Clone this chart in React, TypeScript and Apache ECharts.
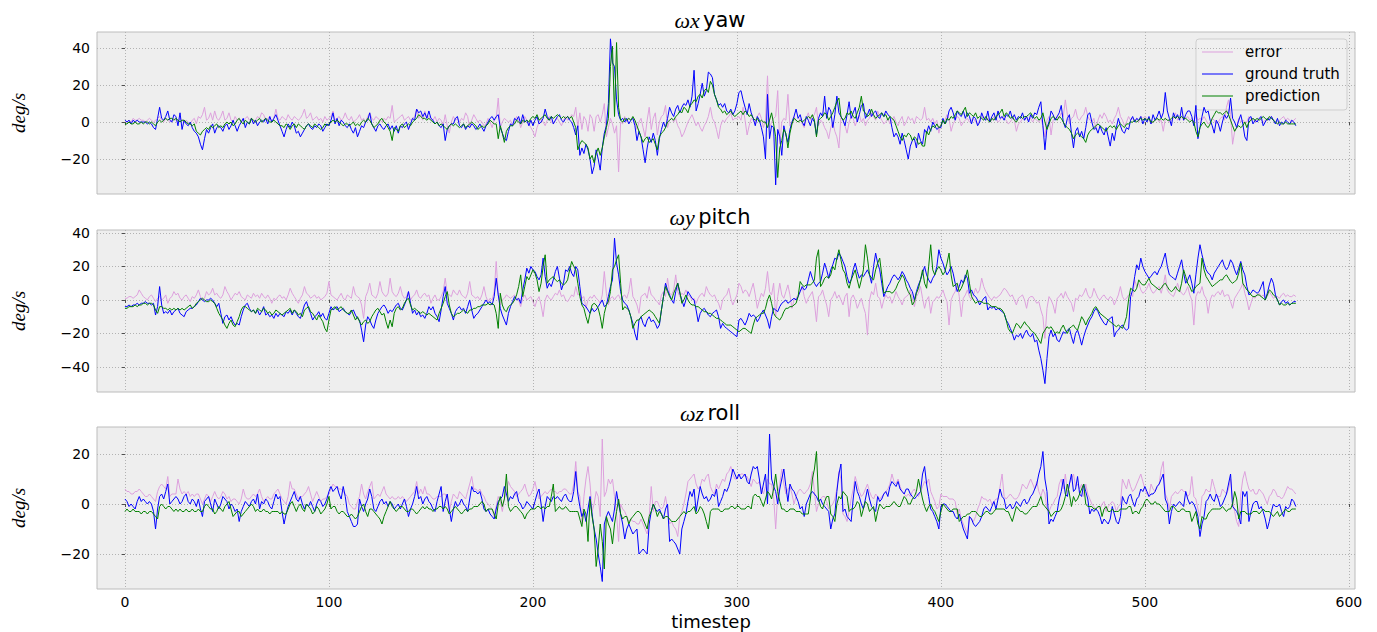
import { useEffect, useRef } from "react";
import * as echarts from "echarts";

// ---- angular rate traces (deg/s), one value per timestep 0..574 ----

const yawTruth = [
  1, 0, 1, -1, 1, 0, 1, 0, 0, 0, 0, -1, 0, -1, -3, -4, 2, 8, 2, 1, 3, 6, 1, 0, 4,
  3, -2, 5, -4, 1, -1, -2, 0, -3, -5, -6, -8, -12, -15, -9, -4, -6, -3, -1, -6, -3, -2, -3, -5, -2,
  -1, -4, -2, 1, -2, -5, -2, 0, 2, -3, 0, -1, 2, -1, 1, -2, 0, 1, 0, 2, -1, 3, 0, 2, 4,
  1, -2, -5, -8, -4, -1, -3, 0, -2, -6, -5, -8, -6, -4, -2, -1, -3, -4, -2, -3, -1, -2, -5, -3, -1,
  -2, 1, 5, -1, 2, -2, 1, 0, -2, -3, -1, -4, -6, -3, -8, -5, -2, -3, 0, 1, 5, -1, -3, -5, -2,
  -1, -3, -4, -2, -1, -4, -2, -5, -2, -6, -2, -3, -1, 0, -4, -1, 2, 1, 7, 5, 6, 3, 5, 2, 6,
  2, 1, -1, 0, -2, -3, -1, -10, -4, -2, -1, -1, 2, 3, -2, -3, -1, -4, -2, -3, -1, -2, -4, -3, -1,
  -3, -5, -2, 0, 2, 3, 1, 3, 4, -3, -6, -9, -10, -5, -1, -2, 2, 1, 3, -1, 4, 0, 1, -2, 1,
  -2, 1, 3, -1, 0, 2, 7, 3, 1, 3, -1, 1, 3, 4, 1, 0, 2, 3, 1, 0, -3, -7, -2, -18, -14,
  -17, -12, -15, -20, -28, -24, -15, -20, -26, -14, -6, -2, 10, 45, 32, 30, 12, 4, 1, 2, 0, 2, -1, 1, 2,
  -2, -10, -5, -8, -15, -22, -14, -8, -11, -6, -10, -18, -9, -4, 0, -3, 2, 8, 5, 3, 7, 9, 5, 8, 10,
  9, 12, 8, 14, 28, 6, 10, 15, 21, 14, 17, 27, 26, 24, 15, 12, 9, 10, 8, 10, 6, 5, 7, 4, 6,
  10, 16, 17, 12, 8, 4, 10, 5, 2, -2, 3, 1, -3, -8, -20, 15, -9, -2, -3, -34, -4, -8, -18, -2, -7,
  -11, -4, 0, 3, 7, 2, 4, 0, -2, 3, 1, -2, 2, 0, -7, 2, 5, 3, 14, 2, 8, 6, -3, 4, 14,
  5, 3, 1, -2, 4, 11, 2, 5, 8, 0, 4, 9, 10, 2, 4, 7, 3, 5, 6, 3, 2, 5, 3, 6, 4,
  3, -3, -8, -6, -8, -12, -6, -10, -15, -20, -13, -10, -9, -14, -6, -10, -12, -4, -6, -2, -5, 0, -2, -4, -3,
  -3, 2, -1, 1, 6, 8, 5, 1, 6, 4, 3, 6, 2, 5, 3, -1, 3, 2, -2, 0, 5, 2, 1, 6, 0,
  3, 5, 1, 6, 2, 3, 1, 4, 3, 6, 2, 4, 1, 3, 2, 5, 1, 3, 0, 4, 2, 5, 4, 8, 11,
  -2, -15, -3, 0, 6, 4, 1, 3, 5, 9, 0, -3, 2, 4, -6, -14, -5, -3, -8, -5, -9, -3, 4, 5, 0,
  -4, -3, -6, -2, -5, -7, -3, -8, -13, -6, -10, -3, 2, -2, -5, -6, -3, -4, 1, 3, 0, 2, 1, 3, -1,
  2, 0, 3, -1, 4, 1, 3, 6, 2, 5, 16, 6, 2, -2, 5, 2, 4, 1, 8, 1, 4, 6, 6, 3, -2,
  9, -9, -3, 3, 8, 5, 6, 1, -2, -6, 1, -1, -5, 0, 4, 2, 4, 13, 2, 0, -3, 1, 4, -1, -8,
  -10, 2, 3, -1, 1, 0, 2, 3, -2, 0, 2, 1, 3, 1, -1, 2, -2, 0, -1, 1, 0, -1, 1, 0, -2,
];

const yawPred = [
  -1, -1, 0, -1, -1, 0, -1, -1, 0, -1, 0, 0, -1, 0, -1, -2, 0, 1, 0, 1, 2, 1, 2, 2, 1,
  2, 1, 0, 1, 1, 0, -1, -1, -2, -1, -5, -6, -7, -5, -4, -3, -4, -2, -3, -2, -1, -3, -2, -3, -1,
  0, -1, 0, -2, -1, 1, 2, 0, -1, 1, 0, -1, 2, 1, 0, 1, 2, 0, 1, 2, 1, 0, 0, 1, 0,
  -1, -2, -2, -3, -1, -2, -4, -2, -1, -3, -1, -2, -3, -4, -2, -1, -2, -3, -1, -2, -3, -4, -3, -1, -2,
  -1, 0, 1, 0, 1, 0, -1, -2, -1, -1, -2, -1, 0, -2, -1, -2, 0, 1, 0, 2, 1, -1, -3, -2, -1,
  1, 2, 0, -1, -3, -5, -10, -3, -4, -5, -2, -1, -3, -2, -1, -2, 0, 1, 2, 4, 3, 2, 2, 1, 2,
  1, 0, -1, 0, -2, -1, -2, -3, -4, -2, -1, -2, -1, -2, -3, -2, -1, -3, -2, -1, 0, -1, -2, -4, -3,
  -2, -3, -2, -1, 1, 0, -1, -1, -9, -2, -6, -11, -5, -3, -2, -2, -1, 1, 0, -1, 1, 0, 1, 0, 2,
  3, 2, 4, 1, 2, 3, 4, 2, 1, 3, 2, 3, 4, 3, 2, 3, 2, 3, 2, 3, 0, -3, -15, -12, -10,
  -11, -12, -14, -20, -18, -22, -17, -14, -18, -14, -8, -3, 2, 30, 41, 3, 43, 8, 1, 0, 2, 1, 2, 1, 3,
  1, -2, -5, -8, -11, -9, -8, -11, -10, -9, -12, -15, -8, -6, -5, -3, 0, 1, 2, 1, 3, 4, 6, 5, 8,
  7, 5, 9, 10, 12, 11, 14, 15, 13, 17, 18, 16, 22, 20, 15, 12, 8, 7, 5, 6, 4, 5, 6, 4, 3,
  4, 5, 6, 4, 6, 5, 3, 4, 2, 1, 2, 0, 1, 0, 0, -3, 1, 5, -1, -8, -30, -14, -10, -4, -6,
  -14, -6, -1, 2, 1, 0, 1, 0, 1, 2, 3, 2, 4, 1, -8, 1, 2, 3, 5, 4, 1, 3, 5, 8, 11,
  13, 3, 1, 2, 5, 4, 6, 3, 2, 5, 8, 14, 6, 5, 3, 4, 7, 4, 2, 3, 4, 5, 3, 4, 1,
  3, 2, 1, -2, -5, -8, -10, -7, -8, -6, -7, -10, -8, -9, -12, -11, -13, -13, -5, -7, -4, -2, -3, -1, -3,
  -2, 1, -1, 2, 1, 3, 2, 4, 6, 5, 4, 6, 8, 3, 5, 4, 3, 5, 2, 3, 2, 1, 3, 1, 0,
  2, 1, 3, 4, 5, 7, 3, 5, 4, 2, 3, 1, 0, 2, 3, 2, 3, 3, 4, 5, 3, 2, 3, 1, 2,
  5, 0, -4, -1, 2, 3, 2, 1, 3, 2, 0, -2, -3, -4, -6, -9, -7, -6, -7, -8, -9, -11, -7, -5, -4,
  -3, -2, -1, -2, -3, -4, -5, -3, -2, -3, -2, -4, -2, -1, -2, -3, -1, -1, 0, 0, 1, 0, 1, 2, 1,
  2, 1, 2, 0, 0, 1, 2, 1, 2, 1, 2, 1, 1, 2, 3, 2, 3, 2, 3, 2, 2, 1, 0, 1, 0,
  -5, -8, -3, -1, 0, -2, -3, -1, 2, 4, 6, 5, 5, 4, 5, 6, 4, 1, -2, -5, -3, -2, -3, -2, 0,
  -3, 0, 1, 2, 1, 2, 1, 2, 3, 2, 1, 3, 2, 1, 0, -1, 0, -1, -1, 0, -1, -1, -1, -1, -1,
];

const yawErr = [
  1, 0, 1, 0, 2, 1, 1, 2, 1, 1, 0, 1, 2, 1, 0, 1, 2, 3, 1, 0, 2, 1, 0, 1, 2,
  1, 0, 2, 1, 0, 1, 0, -1, 1, 2, -1, 3, 2, 4, 8, 1, 2, 5, 1, 6, 2, 1, 3, 6, 1,
  2, 5, 1, 0, 3, 1, 2, 0, 1, 2, 3, 1, 2, 0, 1, 3, 2, 5, 4, 1, 2, 3, 0, 2, 7,
  2, 1, 3, 2, 1, 4, 2, 1, 3, 2, 1, 2, 4, 7, 2, 3, 5, 1, 2, 3, 1, 2, 0, 3, 1,
  2, 3, 6, 1, 2, 3, 1, 2, 5, 2, 1, 3, 0, 1, 2, 4, 1, 2, 0, 3, 5, 2, 1, 3, 2,
  1, 0, 2, 1, 3, 2, 9, 0, 1, 2, 3, 4, 1, 2, 3, 1, 2, 3, 7, 2, 4, 1, 6, 2, 3,
  2, 1, 3, 0, 2, 1, -2, 4, -2, -6, 0, 3, 1, 2, 0, 2, 1, 5, 3, -3, 1, 4, 2, 0, 1,
  0, -2, -1, 2, 0, -3, 1, 2, 13, -3, 0, 2, 1, 0, 1, -2, 0, 3, 1, -3, 0, 3, 1, -1, -3,
  -5, -8, -3, 0, 2, 0, -2, 1, 3, 0, -1, 1, 2, 0, -2, 1, 3, 1, 2, 4, 3, 8, -3, 5, -4,
  3, 1, -5, 4, 2, -5, 3, 4, 0, 4, 10, -8, -3, 2, -1, -6, -2, -27, 0, -1, 3, 0, 2, 1, 2,
  0, -4, 0, 2, -3, -8, 1, 8, -4, 2, 5, -7, 0, 3, 4, 9, -3, 1, 2, 0, 2, -2, -4, -8, -6,
  -3, 0, 2, 4, 1, -2, 0, -3, -5, -2, 0, 3, 8, 2, 0, -4, -9, -2, 1, 0, 2, 3, 5, 1, 2,
  2, 3, 1, 8, 1, -7, -2, 2, 1, -1, 3, 5, 2, -3, 1, 25, -3, 0, 2, 3, 17, -12, 0, 2, 1,
  15, -2, 0, 3, 1, 0, 2, -1, -3, 2, 5, 1, 3, 4, 8, -2, 1, 0, -3, -5, -9, -3, 0, -5, -8,
  -14, 3, 1, -2, -6, 0, 3, 2, -2, 1, 4, 0, 2, -2, 1, 2, 5, 3, 1, 6, 3, 1, -1, 0, 2,
  -1, 1, 3, 0, -2, 1, 3, -2, 0, 3, 1, 2, -1, 3, 2, 1, 2, 8, 1, 2, 0, 2, -1, 1, -6,
  -1, 0, 1, 4, 2, -5, -1, 1, 3, 2, -2, 0, 1, 2, 0, 1, 2, 0, -1, 1, 2, 3, 1, 2, 0,
  1, 3, 2, 0, 1, 3, 2, 1, -1, 0, 2, 1, -5, -1, 0, 2, 1, 3, 1, 2, 0, 2, 1, 0, 2,
  -2, -8, 1, 3, -7, 1, 2, 3, 2, 5, 3, 12, 4, -1, 2, 3, 7, 2, 1, 3, 4, 8, 3, 1, 0,
  2, -4, 1, 4, 2, 5, 3, 0, 1, -1, 2, 4, 8, 3, 1, -2, 0, 3, 1, 2, 1, 2, 0, 3, 2,
  3, 2, 1, -1, 0, 1, 2, 0, 1, -5, 2, 1, 0, 1, 2, 5, 1, 2, 3, 1, 2, 3, 1, 2, 0,
  4, 1, 2, 1, 3, 1, -1, 0, 2, 1, -1, 0, 2, 3, 1, 8, 12, 4, -12, -5, -3, 2, 0, 1, 0,
  0, 3, 1, 2, 0, 1, 2, 1, 0, 1, 1, 2, 3, 1, 0, -1, 1, 2, 3, 1, 2, 1, 0, 1, 2,
];

const pitchTruth = [
  -4, -4, -3, -4, -3, -3, -2, -3, -2, -2, -1, -2, -2, -3, -2, -9, -4, 8, -3, -8, -7, -8, -6, -9, -7,
  -6, -5, -8, -9, -10, -7, -6, -5, -5, -4, -3, -1, 1, 0, -1, 0, 0, 1, 0, -2, -4, -2, -8, -14, -10,
  -9, -12, -10, -13, -15, -14, -15, -10, -6, -3, -2, -5, -7, -6, -8, -6, -9, -7, -4, -9, -8, -10, -9, -11, -8,
  -10, -8, -9, -10, -7, -8, -6, -9, -6, -8, -10, -11, -7, -3, -1, -5, -8, -12, -10, -9, -7, -10, -8, -11, -12,
  -8, -4, -6, -5, -4, -7, -6, -5, -7, -8, -9, -7, -6, -9, -11, -12, -18, -25, -15, -10, -12, -15, -17, -12, -8,
  -6, -4, -3, -5, -8, -6, -7, -5, -3, -2, -5, -6, -3, 0, 5, -2, -8, -6, -9, -7, -10, -9, -11, -8, -4,
  -6, -4, -8, -10, -13, -6, 2, 8, -2, -5, -8, -12, -7, -5, -4, -6, -5, -8, -4, 0, -6, -11, -9, -8, -6,
  -4, -2, 0, -2, -1, -3, 2, 13, 3, -5, -9, -12, -15, -8, -4, -1, 2, 0, 1, -2, 6, 12, 19, 16, 20,
  18, 17, 14, 12, 15, 25, 14, 7, 10, 8, 12, 17, 20, 13, 6, 10, 18, 17, 20, 16, 14, 20, 18, 8, -2,
  -3, -4, -6, -8, -5, -7, -6, -4, -2, 0, -4, -3, 2, 8, 12, 37, 22, 15, 5, 0, -2, -3, -6, -10, -14,
  -20, -24, -12, -10, -14, -16, -12, -10, -13, -12, -14, -17, -15, -6, 2, 10, 6, 3, 0, -2, 5, 10, 4, 0, -4,
  0, 5, 3, 1, 0, -6, -13, -8, -6, -5, -7, -9, -10, -8, -7, -6, -10, -17, -14, -16, -17, -18, -19, -20, -21,
  -22, -12, -11, -13, -15, -12, -8, -10, -9, -10, -13, -11, -8, -6, -9, -12, -17, -10, -5, -6, -7, -4, -2, -1, 0,
  -2, -1, 0, 1, 0, 2, 5, 8, 6, 7, 12, 17, 13, 10, 8, 10, 11, 16, 22, 18, 13, 18, 21, 25, 24,
  28, 26, 23, 20, 14, 10, 12, 18, 22, 17, 13, 15, 14, 16, 18, 15, 10, 20, 28, 22, 18, 10, 2, 5, 8,
  10, 13, 15, 14, 12, 14, 17, 15, 12, 10, 7, 5, 0, 5, 9, 12, 16, 20, 15, 12, 10, 13, 15, 20, 30,
  25, 22, 18, 15, 17, 20, 16, 10, 5, 8, 12, 10, 15, 13, 4, 6, 3, 2, 0, -3, -1, 1, 2, -6, -4,
  -5, -4, -6, -5, -6, -7, -8, -12, -14, -17, -20, -24, -21, -22, -20, -23, -20, -18, -21, -22, -20, -25, -24, -30, -35,
  -42, -50, -35, -22, -18, -22, -20, -24, -25, -22, -19, -20, -18, -17, -22, -26, -20, -18, -22, -27, -22, -18, -15, -12, -10,
  -7, -5, -7, -10, -12, -14, -15, -12, -11, -10, -22, -19, -18, -16, -15, -17, -18, -17, 2, 6, 14, 21, 18, 25, 20,
  17, 15, 13, 14, 16, 17, 15, 18, 20, 24, 28, 20, 15, 14, 13, 12, 16, 20, 24, 16, 10, 12, 15, 10, 4,
  15, 25, 33, 27, 22, 18, 16, 15, 12, 16, 18, 20, 22, 24, 20, 18, 20, 24, 22, 18, 15, 19, 23, 18, 15,
  8, 3, 4, 6, 5, 4, 5, 8, 11, 0, 4, 9, 13, 10, 3, 0, -3, -1, 0, -2, -1, -3, -2, -1, -1,
];

const pitchPred = [
  -5, -5, -4, -4, -4, -3, -4, -3, -3, -2, -2, -3, -2, -2, -3, -6, -8, -4, -4, -5, -5, -6, -5, -6, -5,
  -6, -5, -6, -5, -6, -5, -4, -3, -5, -4, -2, -1, 0, 1, 0, -1, -1, 0, -1, -2, -5, -8, -10, -12, -15,
  -17, -14, -12, -15, -16, -13, -10, -6, -4, -4, -5, -6, -7, -6, -8, -5, -6, -7, -5, -6, -8, -7, -9, -8, -6,
  -7, -8, -9, -8, -7, -6, -5, -8, -6, -7, -9, -8, -10, -6, -5, -4, -7, -8, -10, -12, -9, -11, -13, -17, -19,
  -12, -6, -5, -4, -6, -5, -4, -6, -7, -8, -8, -6, -9, -12, -10, -13, -15, -13, -12, -14, -13, -10, -8, -6, -5,
  -7, -9, -8, -13, -17, -12, -16, -8, -5, -4, -6, -5, -2, 0, 1, -3, -6, -5, -6, -7, -8, -7, -8, -9, -8,
  -9, -10, -11, -12, -8, -5, -2, 2, 5, -3, -8, -10, -9, -8, -8, -7, -6, -7, -8, -6, -6, -5, -5, -4, -4,
  -3, -3, -3, -2, -3, -2, -3, -8, -17, 4, -3, -6, -7, -4, -3, -2, 0, 3, 8, 15, 2, 8, 14, 12, 15,
  18, 16, 12, 5, 10, 20, 27, 10, 12, 13, 14, 12, 11, 12, 10, 9, 10, 12, 18, 23, 20, 18, 10, 2, -3,
  -5, -10, -14, -8, -3, -2, -3, -5, -10, -17, -8, -3, -1, 5, 18, 20, 24, 27, 10, -6, -4, -5, -6, -10, -17,
  -14, -12, -12, -10, -9, -8, -7, -6, -7, -8, -10, -12, -14, -6, 2, 8, 5, 2, 0, 4, 7, 10, 5, -2, 0,
  3, 0, -2, -3, -3, -4, -4, -5, -6, -7, -7, -8, -8, -9, -10, -11, -11, -12, -13, -14, -15, -15, -15, -16, -17,
  -18, -19, -18, -17, -17, -18, -19, -20, -15, -11, -10, -9, -8, -8, -5, 0, 3, -2, -8, -10, -11, -12, -10, -7, -5,
  -5, -4, -4, -3, -2, 2, 11, 9, 8, 9, 9, 9, 10, 12, 25, 30, 8, 10, 13, 14, 13, 15, 20, 18, 25,
  30, 24, 18, 16, 10, 7, 12, 15, 18, 12, 7, 12, 18, 33, 25, 15, 13, 12, 18, 22, 25, 15, 4, 5, 5,
  5, 4, 5, 7, 10, 12, 15, 13, 8, 5, 3, -3, -1, 4, 7, 12, 18, 10, 7, 20, 33, 18, 15, 18, 20,
  18, 15, 17, 22, 28, 15, 8, 9, 10, 5, 7, 10, 13, 18, 10, 2, 0, -2, -1, -1, -1, -2, -2, -2, -3,
  -4, -4, -4, -5, -5, -6, -8, -12, -17, -19, -20, -17, -14, -15, -17, -15, -13, -15, -16, -18, -19, -20, -22, -24, -26,
  -20, -18, -16, -17, -16, -18, -20, -19, -20, -17, -15, -18, -20, -17, -16, -15, -17, -18, -14, -10, -12, -15, -12, -10, -8,
  -5, -4, -6, -8, -9, -10, -11, -12, -13, -14, -15, -16, -15, -16, -17, -14, -10, 0, 7, 6, 5, 7, 12, 10, 9,
  9, 11, 13, 10, 9, 8, 7, 6, 7, 9, 10, 8, 6, 5, 6, 8, 6, 5, 10, 18, 14, 10, 8, 5, 6,
  8, 9, 10, 25, 18, 14, 12, 10, 8, 9, 10, 11, 12, 12, 14, 15, 13, 11, 10, 11, 12, 16, 22, 10, 8,
  6, 5, 3, 2, 2, 3, 3, 2, 1, 0, 3, 6, 5, 3, 2, 0, -3, -2, -3, -3, -2, -3, -2, -2, -2,
];

const pitchErr = [
  1, 1, 2, 2, 1, 2, 3, 6, 4, 2, 1, 0, 2, 3, 1, -1, 1, 2, 0, 1, 3, -2, 1, 2, 5,
  3, 4, 1, 0, 2, 3, 1, -1, 2, 1, 3, 6, 2, 0, 1, 5, 3, 4, 7, 3, 4, 2, 1, 3, 8,
  5, 3, 0, 2, 4, 3, 5, 2, 1, 0, 3, 2, 1, 4, 2, 3, 1, 4, 2, 1, 3, 1, -2, 1, 0,
  2, 3, 1, 2, 0, 3, 7, 4, 2, 0, -2, 1, 3, 8, 4, 3, 1, 2, 3, 1, 2, 0, 1, 2, 4,
  11, 3, 2, 1, 0, 2, 4, 1, 0, 3, 2, 1, 8, 3, 2, 1, -3, -11, 2, 5, 10, 3, 2, 1, 4,
  11, 5, 3, 2, 4, 13, 5, 3, 2, 4, 8, 3, 1, 2, 5, 0, 2, 3, 6, 2, 1, 3, 4, 2, 3,
  -2, 1, 3, 0, 0, 2, 5, 13, 4, 3, 2, 6, 4, 3, 6, 3, 2, 1, 4, 11, 3, 2, 1, 2, 0,
  3, 8, 2, -1, 1, 0, 5, 23, 3, -3, 0, 1, 3, 2, 1, 2, 3, 1, 0, -4, 1, 3, 0, 1, 2,
  -1, -4, 0, 2, -3, -10, 0, 3, 1, 0, 2, 4, 3, 6, 2, 3, 0, -1, 1, 3, 2, 8, 3, 4, 1,
  2, -5, 0, 2, 1, 3, 1, 0, -2, 3, 17, 4, -3, 1, 2, 0, 2, 3, 0, 2, 3, 1, 5, 13, 2,
  0, -3, -8, 2, 3, 4, 1, 8, 3, 2, 0, -1, -3, 3, 5, 2, 13, 4, 3, 6, 15, 5, 2, 4, 3,
  6, 3, 2, 0, 1, -2, 1, 3, 4, 2, 8, 5, 3, 2, 3, 0, -2, -6, 0, 2, 3, 7, 1, -3, 0,
  3, 10, 8, 4, 6, 5, 2, 6, 10, 3, -5, 0, 4, 2, 7, 17, 5, 3, 10, -10, 2, 10, 3, 1, 5,
  9, 3, -5, 0, 1, 3, 5, 8, 2, -2, 1, 3, 5, -2, -13, 2, 3, 6, 1, -3, -10, 0, 2, 5, 1,
  3, 0, -3, 2, 4, -10, 1, 3, 0, -5, -2, 1, -4, -8, -21, 0, 5, 3, 10, 2, 1, -5, 0, 3, 1,
  2, -2, 1, 5, 2, 0, -3, 1, 2, 3, 6, 1, -4, 2, 4, 8, 1, -5, 0, 2, -8, -1, 0, 2, 1,
  3, 6, 2, -1, -15, 0, 3, 5, 10, 2, -10, 1, 3, 6, 2, 0, 3, 7, 4, 6, 13, 8, 5, 3, 1,
  0, 2, 1, 2, 3, 5, 7, 6, 4, 2, 3, 0, -3, 1, 2, 3, 0, -5, 1, 2, 2, 0, -2, -1, -6,
  -10, -23, -5, 2, 0, -3, -8, 1, 2, 4, 1, 5, 2, 0, -2, -7, 1, 0, 3, 2, 4, 7, 3, 1, 2,
  7, 4, 1, 0, 2, 3, 1, 0, 2, 1, -3, 0, 3, 8, 2, 0, 1, 3, 4, 2, 12, 8, 10, 6, 4,
  5, 7, 10, 6, 4, 5, 7, 8, 4, 9, 15, 6, 4, 3, 2, 5, 10, 6, 4, 3, 5, 8, 3, 0, -15,
  2, 5, 4, 8, 3, 1, -8, 0, 3, 2, 4, 5, 3, 6, 2, 3, 3, -1, -5, 1, 3, 5, 7, 10, 4,
  0, -6, -2, 2, 1, 3, 4, 2, 3, 1, 2, 5, 3, 1, 2, 2, 1, 3, 4, 2, 3, 2, 2, 3, 2,
];

const rollTruth = [
  2, 1, -1, 0, -1, -2, 1, 3, 1, 2, 1, 0, 1, 0, -3, -10, -2, 3, 4, 2, 5, 8, 0, 1, 2,
  3, 2, 0, 1, 3, 4, 1, 0, 2, 1, -1, 2, -2, -5, 1, 2, 3, 0, -3, 2, 0, -2, 0, 3, 2,
  1, -2, 0, -1, -3, -2, -7, -3, -1, 1, 0, -1, 1, 2, 0, 4, -2, 1, 0, 2, 1, -1, -2, 1, 4,
  2, 3, -3, -8, -4, -1, 1, 3, 5, 2, 1, 3, 0, -2, 0, -1, 1, -1, -3, 0, 2, 1, -1, 0, 2,
  5, 7, 5, 6, 7, 4, 2, 7, 3, -3, -5, -7, -9, -9, -8, 2, -1, -3, 0, 2, 6, 3, -2, -3, -1,
  1, 2, 0, 1, -1, 1, 0, -2, -1, 0, -2, 0, 2, -1, -5, -2, 0, 3, 7, 2, 3, 0, 2, 3, 1,
  0, -2, -3, 1, 4, 7, -3, 1, 4, -2, -7, -2, 1, -1, 0, 2, 0, -1, -3, 2, 7, 5, 5, 4, 5,
  2, -2, -3, -2, -4, -5, -6, -2, 1, 2, 3, 7, 4, 1, 3, 2, 4, 5, 1, 0, -2, -1, 1, 0, -1,
  -2, 1, 4, 6, 0, -7, -1, 3, 2, 1, 3, 2, 3, 2, 1, 3, 4, 2, 1, 1, 5, 13, 4, -1, -5,
  -3, -7, -2, 3, -4, -10, -14, -20, -25, -31, -8, -5, -3, -5, -7, -2, 5, 0, -4, -8, -14, -10, -8, -10, -12,
  -11, -10, -20, -19, -18, -19, -20, -8, -3, 0, -2, -3, -2, -4, -6, -2, 0, -15, -14, -15, -16, -18, -20, -10, -7,
  -4, 1, 5, 3, 6, -3, 2, 7, 4, 2, 3, 1, 2, 4, 3, 6, -1, 1, 3, 6, 5, 7, 10, 14, 12,
  10, 12, 10, 11, 12, 9, 8, 12, 15, 14, 15, 10, 4, 8, 12, 0, 28, 10, 7, 5, 0, 6, 10, 14, 7,
  1, 8, 6, 5, 3, 1, -2, -1, -5, 0, 2, 4, 5, 4, 3, 1, 2, 0, -1, -2, -3, -10, -6, -4, 5,
  12, 16, -3, -2, -5, -6, -7, 2, 9, 5, 3, 0, -2, 2, 6, 2, -1, -2, -3, 3, 1, 2, 4, 5, 3,
  7, 9, 8, 7, 9, 6, 5, 4, 6, 6, 4, 3, 2, 3, 4, 5, 12, 15, 8, 3, -2, -3, -5, -7, -10,
  -1, 0, 0, -1, -2, -3, -3, -5, -6, -4, -7, -10, -12, -14, -5, -6, -8, -9, -8, -7, -5, -2, -1, -2, -3,
  -1, 1, -2, 2, 6, 3, 2, -2, -1, 0, -2, -1, 1, 0, -1, 1, 2, 0, 1, 3, 4, 6, 8, 12, 15,
  21, 10, 5, -8, -6, -7, -5, -3, 2, 5, 10, 4, 3, 8, 12, 5, 6, 11, 4, 3, 8, 5, 2, -4, -2,
  -3, -2, -3, -5, -8, -6, -7, -8, -6, -1, -4, -7, -8, -5, 3, 1, 0, 3, 4, 1, -1, 2, 3, 6, 5,
  7, 5, 3, 4, 4, 5, 7, 8, 10, 12, 2, 0, -8, -3, 0, -1, 0, 1, 0, -1, 5, 2, 0, 1, 0,
  -2, -5, -13, -8, -5, 1, 2, 4, 2, 1, 4, 2, -1, 0, 2, 4, 8, 12, -1, -2, -3, -5, -8, 5, 3,
  5, -7, -3, 0, 1, 1, -2, -1, -3, -6, -10, -7, -3, 0, -1, -1, 0, -3, -5, -1, -2, -1, 2, 1, -1,
];

const rollPred = [
  -3, -2, -3, -3, -2, -3, -3, -3, -4, -3, -3, -4, -3, -3, -4, -5, -6, -1, 0, -1, -2, -1, -1, -2, -3,
  -2, -3, -2, -3, -3, -2, -3, -3, -2, -3, -3, -2, -3, -3, -1, 0, -1, -2, -2, -4, -3, -1, -2, -3, -1,
  0, 1, -2, -5, -4, -3, -3, -5, -4, -3, -2, -1, 0, -1, -3, -2, -3, -3, -2, -3, -3, -4, -3, -3, -3,
  -3, -4, -3, -4, -4, -2, 0, 1, -1, -3, -1, 0, -2, -3, 0, -1, -2, -4, -3, -1, -2, -4, -3, -2, 0,
  3, -2, -1, -1, -3, -4, -3, -3, -4, -5, -5, -4, -5, -6, -5, -3, -1, 0, -3, -5, -2, -2, -3, -4, -5,
  -6, -8, -5, -3, -1, 1, -1, -2, -3, -2, -1, -1, -2, -3, -3, -2, -2, -3, -4, -3, -2, -1, -2, -1, -2,
  -2, -3, -2, -2, -1, -1, -2, -1, -2, -4, -3, -2, -1, -2, -3, -4, -3, -2, -3, -2, -2, -1, -1, -1, 0,
  1, 0, -3, -2, -2, -2, -4, -6, 0, 3, -1, 2, 12, -1, -3, -2, -1, -1, -2, -3, -4, -6, -4, -3, -2,
  -2, -2, -1, -1, -2, -1, -2, -1, -1, 3, 8, -3, -2, -1, -2, -2, -1, -2, -3, -3, -3, -3, -3, -6, -9,
  -2, -4, -15, 2, -5, -10, -25, -18, -8, -15, -26, -5, -8, -10, -16, -8, -3, 2, -4, -6, -5, -5, -8, -6, -5,
  -4, -3, -3, -4, -6, -8, -10, -5, -3, 0, -2, -5, -3, -4, -6, -5, -5, -6, -7, -7, -7, -6, -5, -4, -3,
  -4, -3, -3, -2, -1, -4, -3, -1, -2, -4, -7, -10, -3, -2, -2, -2, -2, -3, -3, -2, -2, -2, -1, -1, -2,
  -1, -1, -2, -2, -2, -1, -1, -2, 3, 4, 3, 3, 1, -1, 2, 5, 4, 2, 6, 12, 5, 1, -2, -2, -3,
  -3, -2, -2, -2, -3, -3, -3, -4, -4, -4, -4, 2, 10, 14, 21, 2, -1, -2, 1, 3, 3, -4, -5, -7, 0,
  3, 2, 5, 4, 3, -3, -2, -2, -1, 1, 0, -5, -2, 1, 0, -3, -2, -1, -7, -3, 0, -1, -2, -1, -1,
  -1, 0, 1, 0, -1, -1, 1, 3, 2, 0, 0, 2, 3, 5, 10, 6, 2, -1, -3, -1, 0, -2, -3, -5, -7,
  -3, 0, -1, -2, -3, -3, -2, -2, -2, -7, -6, -5, -5, -4, -4, -3, -3, -3, -4, -5, -5, -4, -3, -3, -4,
  -4, -3, -2, -2, -2, -2, -2, -3, -3, -5, -7, -4, -1, -2, -3, -3, -4, -4, -3, -2, -1, -1, -1, 1, 3,
  0, -1, -2, -3, -5, -4, -3, -3, -3, -2, 0, 3, 8, 4, -1, 3, 1, 2, 4, 6, 8, 0, -1, -1, -1,
  -2, -2, -1, -1, -5, -2, -1, -3, -3, -2, -3, -3, -3, -2, -2, -2, -2, -1, -1, -4, -3, -3, -4, -2, -1,
  1, 2, 1, 0, 0, 1, 0, 0, -1, -2, -3, -3, -3, -1, -1, -2, -3, -3, -2, -2, -3, -3, -3, -7, -5,
  -3, -8, -10, -5, -6, -6, -4, -3, -2, -2, -2, -2, -2, -1, -2, -3, -2, -2, 0, 5, 2, -6, -3, -3, -3,
  -4, -4, -4, -3, -3, -3, -4, -3, -2, -3, -3, -3, -4, -5, -4, -3, -5, -4, -3, -2, -3, -3, -2, -2, -2,
];

const rollErr = [
  6, 5, 5, 4, 4, 5, 5, 6, 5, 4, 3, 3, 4, 3, 2, 1, 5, 7, 8, 7, 6, 11, 3, 4, 4,
  4, 10, 6, 4, 5, 4, 5, 3, 4, 3, 4, 4, 2, 0, 2, 4, 3, 1, 3, 5, 3, 2, 3, 5, 4,
  2, 3, 1, 2, 2, 1, 0, 2, 6, 3, 2, 2, 3, 4, 3, 4, 6, 3, 1, 2, 3, 2, 2, 4, 5,
  6, 4, 2, 1, 0, 3, 9, 6, 6, 4, 2, 3, 3, 4, 5, 7, 4, 1, 3, 5, 3, 1, 2, 2, 3,
  4, 6, 8, 7, 7, 6, 6, 5, 4, 3, 0, -1, -2, -2, 1, 3, 8, 4, 2, 5, 7, 9, 2, 3, 4,
  3, 5, 7, 4, 3, 2, 3, 2, 2, 3, 2, 3, 2, 1, 2, 3, 4, 5, 9, 4, 6, 4, 7, 4, 4,
  3, 2, 2, 3, 3, 3, 4, 4, 2, -3, 1, 4, 3, 2, 5, 4, 3, 2, 5, 8, 11, 6, 6, 5, 6,
  4, 3, 1, 0, -1, -2, -5, -1, 3, 1, -3, 2, 5, 9, 7, 6, 5, 3, 4, 5, 6, 8, 5, 3, 4,
  6, 9, 5, 2, 3, 4, 5, 4, 5, 6, 5, 5, 4, 5, 5, 6, 6, 5, 4, 4, 8, 17, 5, 3, -8,
  3, 10, 15, 8, -3, 0, 5, 3, -5, 26, 3, 5, 10, 8, 10, 3, -4, -15, 0, -2, -3, -5, -7, -6, -7,
  -7, -8, -8, -6, -8, -10, -12, -5, 7, -3, 1, 1, -1, -2, -1, 3, -2, -8, -7, -9, -10, -13, -5, -3, 0,
  4, 9, 10, 11, 12, 8, 6, 7, 10, 9, 11, 12, 7, 5, 4, 8, 6, 8, 10, 9, 12, 13, 15, 12, 10,
  10, 11, 12, 12, 11, 11, 9, 7, 10, 9, 8, 9, 6, 4, 7, 10, 8, 8, 3, -10, 4, 8, 14, 8, 4,
  6, 7, 4, 0, 3, 5, 6, 5, 4, 5, 6, 8, 13, 5, -3, 0, 2, 3, 3, 1, -2, -1, 0, 2, 6,
  13, 10, -4, -5, -7, -3, 2, 6, 11, 8, 5, 3, 4, 6, 8, 5, 3, 2, 4, 3, 2, 3, 4, 5, 6,
  8, 12, 9, 8, 10, 7, 5, 4, 3, 4, 3, 5, 6, 4, 3, 5, 7, 9, 8, 10, 5, 3, 1, -2, -1,
  4, 3, 3, 3, 2, 2, 2, 1, -4, -2, -6, -8, -10, -12, -5, -6, -7, -5, -2, 0, 3, 2, 2, 1, 2,
  0, 1, 2, 2, 7, 12, 3, 2, 3, 4, 3, 2, 2, 3, 5, 8, 7, 6, 8, 10, 8, 6, 9, 5, 3,
  6, 4, -2, -3, -1, 0, 2, 3, 8, 10, 6, 12, 5, 8, 10, 12, 7, 8, 6, 8, 3, 8, 4, 2, 0,
  -1, -2, -1, -2, 0, 1, -3, -1, 0, 1, 0, -3, -1, 0, 10, 8, 6, 10, 7, 5, 6, 8, 10, 12, 9,
  6, 4, 3, 8, 6, 5, 7, 8, 14, 17, 4, 2, -2, 3, 4, 5, 4, 5, 6, 5, 5, 3, 4, 11, 3,
  2, -2, -5, 3, 4, 6, 5, 5, 10, 7, 4, 3, 3, 6, 5, 4, 6, 10, 1, -3, -7, -9, 4, 10, 13,
  9, 6, 5, 6, 4, 4, 6, 5, 4, 2, 0, 3, 4, 6, 5, 3, 3, 2, 3, 5, 7, 6, 6, 5, 4,
];

// ---- axis ticks ----
const xTicks = [0, 100, 200, 300, 400, 500, 600];
const yawTicks = [-20, 0, 20, 40];
const pitchTicks = [-40, -20, 0, 20, 40];
const rollTicks = [-20, 0, 20];

const seriesNames = ["error", "ground truth", "prediction"];

const panels = [
  { symbol: "ωx", label: "yaw", truth: yawTruth, pred: yawPred, err: yawErr, ticks: yawTicks, min: -38.9, max: 48.7, top: 32 },
  { symbol: "ωy", label: "pitch", truth: pitchTruth, pred: pitchPred, err: pitchErr, ticks: pitchTicks, min: -55, max: 41.8, top: 230 },
  { symbol: "ωz", label: "roll", truth: rollTruth, pred: rollPred, err: rollErr, ticks: rollTicks, min: -34, max: 30.8, top: 427 },
];

const PLOT_LEFT = 97;
const PLOT_WIDTH = 1258;
const PLOT_HEIGHT = 162;
const CENTER_X = 710;

const lineColors = ["#dda0dd", "#0000ff", "#008000"];
const gridLine = { color: "#b2b2b2", width: 1, type: [1, 2] as number[] };
const tickFont = { fontFamily: "DejaVu Sans", fontSize: 14, color: "#000000" };
const minusFmt = (v: number) => (v < 0 ? "\u2212" + Math.abs(v) : String(v));

const toPoints = (arr: number[]) => arr.map((v, i) => [i, v]);

// legend box drawn as graphic elements inside the top panel
function legendGraphic() {
  const boxX = 1196;
  const boxY = 39;
  const rowY = [52, 74, 96];
  const children: any[] = [
    {
      type: "rect",
      shape: { x: boxX, y: boxY, width: 151, height: 71, r: 3 },
      style: { fill: "rgba(240,240,240,0.85)", stroke: "#cfcfcf", lineWidth: 1 },
    },
  ];
  seriesNames.forEach((name, i) => {
    children.push({
      type: "line",
      shape: { x1: boxX + 6, y1: rowY[i], x2: boxX + 37, y2: rowY[i] },
      style: { stroke: lineColors[i], lineWidth: 1 },
    });
    children.push({
      type: "text",
      x: boxX + 49,
      y: rowY[i],
      style: {
        text: name,
        align: "left",
        verticalAlign: "middle",
        fontFamily: "DejaVu Sans",
        fontSize: 15,
        fill: "#000",
      },
    });
  });
  return { type: "group", silent: true, z: 100, children };
}

function buildOption() {
  const grid = panels.map((p) => ({
    left: PLOT_LEFT,
    top: p.top,
    width: PLOT_WIDTH,
    height: PLOT_HEIGHT,
    show: true,
    backgroundColor: "#eeeeee",
    borderColor: "#bcbcbc",
    borderWidth: 1,
    containLabel: false,
    outerBoundsMode: "none",
  }));

  const xAxis = panels.map((_, k) => ({
    gridIndex: k,
    type: "value",
    min: -13.7,
    max: 603,
    axisLine: { show: false },
    axisTick: { show: true, customValues: xTicks, length: 3, lineStyle: { color: "#4d4d4d", width: 1 } },
    axisLabel: { show: k === 2, customValues: xTicks, margin: 6, formatter: minusFmt, ...tickFont },
    splitLine: { show: true, lineStyle: gridLine },
  }));

  const yAxis = panels.map((p, k) => ({
    gridIndex: k,
    type: "value",
    min: p.min,
    max: p.max,
    axisLine: { show: false },
    axisTick: { show: true, customValues: p.ticks, length: 3, lineStyle: { color: "#4d4d4d", width: 1 } },
    axisLabel: { customValues: p.ticks, margin: 7, formatter: minusFmt, ...tickFont },
    splitLine: { show: true, lineStyle: gridLine },
  }));

  const series: any[] = [];
  panels.forEach((p, k) => {
    const common = { type: "line", xAxisIndex: k, yAxisIndex: k, symbol: "none", showSymbol: false, silent: true };
    const sets = [p.err, p.truth, p.pred];
    sets.forEach((arr, j) => {
      series.push({
        ...common,
        name: seriesNames[j],
        data: toPoints(arr),
        z: 2 + j,
        lineStyle: { color: lineColors[j], width: 1 },
        itemStyle: { color: lineColors[j] },
      });
    });
  });

  const titleY = [20, 217, 413];
  const graphic: any[] = [];
  panels.forEach((p, k) => {
    graphic.push({
      type: "text",
      x: CENTER_X,
      y: titleY[k],
      silent: true,
      style: {
        text: `{m|${p.symbol}} {s|${p.label}}`,
        align: "center",
        verticalAlign: "middle",
        rich: {
          m: { fontFamily: "Liberation Serif", fontStyle: "italic", fontSize: 22, fill: "#000" },
          s: { fontFamily: "DejaVu Sans", fontSize: 21, fill: "#000" },
        },
      },
    });
    graphic.push({
      type: "text",
      x: 18,
      y: p.top + PLOT_HEIGHT / 2,
      rotation: Math.PI / 2,
      silent: true,
      style: {
        text: "deg/s",
        align: "center",
        verticalAlign: "middle",
        fontFamily: "Liberation Serif",
        fontStyle: "italic",
        fontSize: 19,
        fill: "#000",
      },
    });
  });
  graphic.push({
    type: "text",
    x: 711,
    y: 621,
    silent: true,
    style: { text: "timestep", align: "center", verticalAlign: "middle", fontFamily: "DejaVu Sans", fontSize: 18, fill: "#000" },
  });
  graphic.push(legendGraphic());

  return {
    animation: false,
    backgroundColor: "#ffffff",
    grid,
    xAxis,
    yAxis,
    series,
    graphic,
  };
}

export default function App() {
  const ref = useRef<HTMLDivElement>(null);
  useEffect(() => {
    if (!ref.current) return;
    const chart = echarts.init(ref.current, undefined, { renderer: "svg" });
    chart.setOption(buildOption() as any);
    return () => chart.dispose();
  }, []);
  return (
    <div
      ref={ref}
      style={{ position: "fixed", left: 0, top: 0, width: 1377, height: 632, background: "#ffffff" }}
    />
  );
}
